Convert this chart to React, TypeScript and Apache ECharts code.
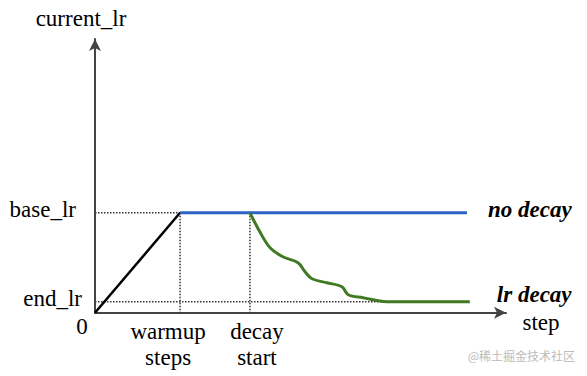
import React, { useEffect, useRef } from "react";
import * as echarts from "echarts";

// steps (x) and learning-rate (y) values
const warmupX = [0, 20.7];
const warmupY = [0, 1];
const noDecayX = [20.7, 90.5];
const noDecayY = [1, 1];
const decayX = [37.7, 40.1, 42.6, 45.7, 49.4, 51.1, 52.8, 56.4, 60.1, 61.6, 65.2, 71.0, 91.2];
const decayY = [1.0, 0.81, 0.65, 0.56, 0.5, 0.41, 0.34, 0.3, 0.26, 0.18, 0.15, 0.11, 0.11];
const baseLr = 1;
const endLr = 0.11;
const warmupStep = 20.7;
const decayStart = 37.7;
const endLrReach = 71.0;
const yTickValues = [endLr, baseLr];
const yTickLabels = ["end_lr", "base_lr"];
const xTickValues = [warmupStep, decayStart];
const xTickLabels = ["warmup\nsteps", "decay\nstart"];
const legendNames = ["no decay", "lr decay"];

const zip = (xs: number[], ys: number[]) => xs.map((x, i) => [x, ys[i]]);
const serif = "'Liberation Serif', 'DejaVu Serif', serif";

export default function App() {
  const ref = useRef<HTMLDivElement>(null);
  useEffect(() => {
    const chart = echarts.init(ref.current!, null, { renderer: "svg" });
    const dotted = { color: "#333", width: 1.5, type: "dotted" as const };
    const endLabelBase = {
      show: true,
      fontFamily: serif,
      fontSize: 23,
      fontWeight: "bold",
      fontStyle: "italic",
      color: "#000",
    };
    chart.setOption({
      animation: false,
      backgroundColor: "#fff",
      grid: { left: 95, right: 81, top: 39, bottom: 63.3 },
      xAxis: {
        type: "value",
        min: 0,
        max: 100,
        axisLine: { show: true, symbol: ["none", "arrow"], symbolSize: [9, 12], lineStyle: { color: "#444", width: 2 } },
        axisTick: { show: false },
        splitLine: { show: false },
        axisLabel: { show: false },
      },
      yAxis: {
        type: "value",
        min: 0,
        max: 2.74,
        name: "current_lr",
        nameLocation: "end",
        nameGap: 9,
        nameTextStyle: { fontFamily: serif, fontSize: 23, color: "#000", padding: [0, 28, 0, 0] },
        axisLine: { show: true, symbol: ["none", "arrow"], symbolSize: [9, 12], lineStyle: { color: "#444", width: 2 } },
        axisTick: { show: false },
        splitLine: { show: false },
        axisLabel: {
          customValues: yTickValues,
          margin: 13,
          fontFamily: serif,
          fontSize: 23,
          color: "#000",
          formatter: (v: number) => {
            const i = yTickValues.indexOf(v);
            return i === 1 ? `{b|${yTickLabels[i]}}` : `{e|${yTickLabels[i]}}`;
          },
          rich: {
            b: { fontFamily: serif, fontSize: 23, color: "#000", padding: [0, 6, 7, 0] },
            e: { fontFamily: serif, fontSize: 23, color: "#000", padding: [0, 0, 7, 0] },
          },
        },
      },
      series: [
        { type: "line", data: [[0, baseLr], [warmupStep, baseLr]], symbol: "none", lineStyle: dotted, z: 1 },
        { type: "line", data: [[warmupStep, baseLr], [warmupStep, 0]], symbol: "none", lineStyle: dotted, z: 1 },
        { type: "line", data: [[decayStart, baseLr], [decayStart, 0]], symbol: "none", lineStyle: dotted, z: 1 },
        { type: "line", data: [[0, endLr], [endLrReach, endLr]], symbol: "none", lineStyle: dotted, z: 1 },
        { type: "line", data: zip(warmupX, warmupY), symbol: "none", lineStyle: { color: "#000", width: 2.5 }, z: 3 },
        {
          type: "line",
          name: legendNames[0],
          data: zip(noDecayX, noDecayY),
          symbol: "none",
          lineStyle: { color: "#2c64c4", width: 3 },
          z: 3,
          endLabel: { ...endLabelBase, formatter: legendNames[0], distance: 21, offset: [0, -3] },
        },
        {
          type: "line",
          name: legendNames[1],
          data: zip(decayX, decayY),
          symbol: "none",
          smooth: 0.35,
          lineStyle: { color: "#3f7a22", width: 3 },
          z: 4,
          endLabel: { ...endLabelBase, formatter: legendNames[1], distance: 27, offset: [0, -7] },
        },
      ],
    });

    // annotation texts positioned through the chart's own scales
    const origin = chart.convertToPixel({ gridIndex: 0 }, [0, 0]) as number[];
    const xEnd = chart.convertToPixel({ gridIndex: 0 }, [100, 0]) as number[];
    const xLabelOffsets = [-12, 7];
    const graphics: any[] = [];
    xTickValues.forEach((v, i) => {
      const p = chart.convertToPixel({ gridIndex: 0 }, [v, 0]) as number[];
      graphics.push({
        type: "text",
        x: p[0] + xLabelOffsets[i],
        y: p[1] + 6,
        style: {
          text: xTickLabels[i],
          font: `23px ${serif}`,
          fill: "#000",
          align: "center",
          verticalAlign: "top",
          lineHeight: 26,
        },
      });
    });
    graphics.push({
      type: "text",
      x: origin[0] - 13,
      y: origin[1] + 14,
      style: { text: "0", font: `23px ${serif}`, fill: "#000", align: "center", verticalAlign: "middle" },
    });
    graphics.push({
      type: "text",
      x: xEnd[0] + 35,
      y: origin[1] + 10,
      style: { text: "step", font: `23px ${serif}`, fill: "#000", align: "center", verticalAlign: "middle" },
    });
    graphics.push({
      type: "text",
      right: 12,
      top: 349,
      style: { text: "@稀土掘金技术社区", font: "12px 'Noto Sans CJK SC'", fill: "#bbb" },
    });
    chart.setOption({ graphic: graphics });
    return () => chart.dispose();
  }, []);
  return <div ref={ref} style={{ position: "fixed", left: 0, top: 0, width: 587, height: 376 }} />;
}
